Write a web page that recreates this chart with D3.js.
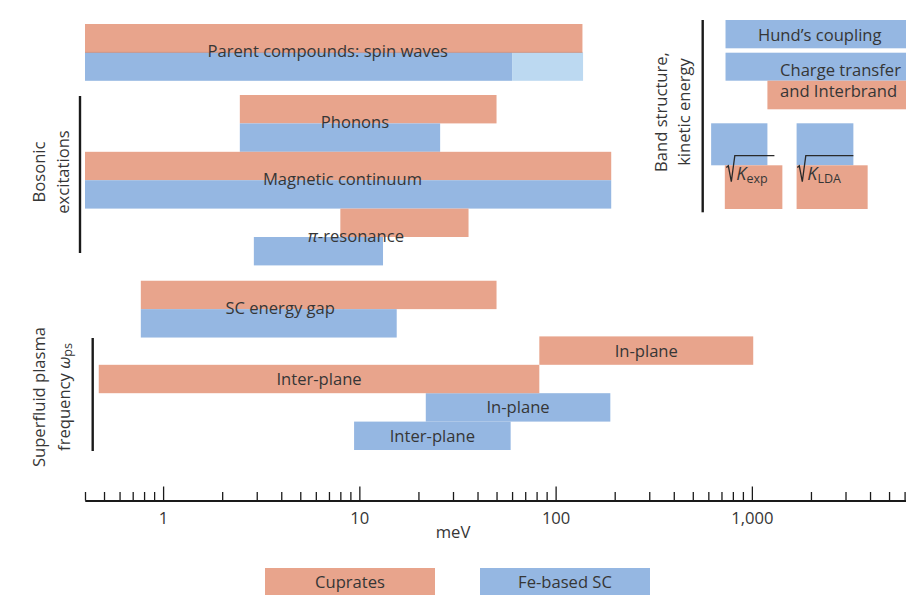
<!DOCTYPE html>
<html><head><meta charset="utf-8">
<script src="https://cdn.jsdelivr.net/npm/d3@7"></script>
<style>
body{margin:0;background:#fff;}
svg text{font-family:"Open Sans",sans-serif;fill:#363636;}
</style></head>
<body><svg id="c" width="906" height="595"></svg>
<script>
// ---------- DATA (energies in meV) ----------
const mainLabels = ["Parent compounds: spin waves", "Phonons", "Magnetic continuum", "\u03C0-resonance", "SC energy gap"];
const cupratesRange = [[0.4, 137], [2.46, 50], [0.4, 192], [8, 36], [0.77, 50]];
const feRange = [[0.4, 60], [2.46, 25.8], [0.4, 192], [2.9, 13.2], [0.77, 15.5]];
const feParentExtension = [60, 138];
const mainLabelEnergy = [6.9, 9.5, 8.2, 9.6, 3.95];

const plasmaLabels = ["In-plane", "Inter-plane"];
const plasmaCuprates = [[82.6, 1016], [0.47, 82.6]];
const plasmaFe = [[21.8, 190], [9.4, 59]];

const bandLabels = ["Hund\u2019s coupling", "Charge transfer", "and Interbrand"];
const bandFe = [[734, 6100], [734, 6100]];
const bandCuprates = [[1200, 6100]];
const kineticNames = ["exp", "LDA"];
const kineticFe = [[620, 1200], [1690, 3290]];
const kineticCuprates = [[728, 1430], [1690, 3890]];

const majorTicks = [1, 10, 100, 1000];
const tickLabels = ["1", "10", "100", "1,000"];
const legendLabels = ["Cuprates", "Fe-based SC"];

// ---------- STYLE / LAYOUT ----------
const C_CUP = "#E8A48C", C_FE = "#95B7E2", C_FE_LIGHT = "#BCD9F1";
const FS = 16.6;
const svg = d3.select("#c");
const x = d3.scaleLog().domain([0.4, 6100]).range([85, 906]);
const slot = d3.scaleLinear().domain([0, 1]).range([24, 52.4]);
const H = 28.4;
const mainSlots = [[0, 1], [2.5, 3.5], [4.5, 5.5], [6.5, 7.5], [9.04, 10.04]];

function bar(r, y, h, color) {
  svg.append("rect").attr("x", x(r[0])).attr("y", y)
    .attr("width", x(r[1]) - x(r[0])).attr("height", h).attr("fill", color);
}
function label(t, cx, cy, anchor) {
  return svg.append("text").attr("x", cx).attr("y", cy).attr("text-anchor", anchor || "middle")
    .attr("dominant-baseline", "central").attr("font-size", FS).text(t);
}

// main rows
mainLabels.forEach((lab, i) => {
  bar(cupratesRange[i], slot(mainSlots[i][0]), H, C_CUP);
  bar(feRange[i], slot(mainSlots[i][1]), H, C_FE);
  if (i === 0) bar(feParentExtension, slot(mainSlots[i][1]), H, C_FE_LIGHT);
});
svg.append("line").attr("x1", x(0.4)).attr("x2", x(137)).attr("y1", slot(1)).attr("y2", slot(1))
  .attr("stroke", "#c98a78").attr("stroke-width", 0.8);
mainLabels.forEach((lab, i) => {
  const t = label(lab, x(mainLabelEnergy[i]), slot(mainSlots[i][1]) - 2);
  if (i === 3) {
    t.text(null);
    t.append("tspan").attr("font-style", "italic").text("\u03C0");
    t.append("tspan").text("-resonance");
  }
});

// superfluid plasma rows
const plasmaSlotsCup = [11, 12], plasmaSlotsFe = [13, 14];
plasmaLabels.forEach((lab, i) => {
  bar(plasmaCuprates[i], slot(plasmaSlotsCup[i]), H, C_CUP);
  bar(plasmaFe[i], slot(plasmaSlotsFe[i]), H, C_FE);
});
plasmaLabels.forEach((lab, i) => {
  const c1 = plasmaCuprates[i], c2 = plasmaFe[i];
  label(lab, (x(c1[0]) + x(c1[1])) / 2, slot(plasmaSlotsCup[i]) + H / 2 - 0.5);
  label(lab, (x(c2[0]) + x(c2[1])) / 2, slot(plasmaSlotsFe[i]) + H / 2 - 0.5);
});

// band structure panel
bar(bandFe[0], 20, 28.3, C_FE);
bar(bandFe[1], 52.7, 28, C_FE);
bar(bandCuprates[0], 80.7, 28.6, C_CUP);
label(bandLabels[0], (x(bandFe[0][0]) + x(bandFe[0][1])) / 2 + 4, 34);
label(bandLabels[1], 780, 69, "start");
label(bandLabels[2], 780, 90.5, "start");

kineticNames.forEach((nm, i) => {
  bar(kineticFe[i], 123.3, 42, C_FE);
  bar(kineticCuprates[i], 165.3, 43.7, C_CUP);
});
kineticNames.forEach((nm, i) => {
  const x0 = i === 0 ? x(kineticCuprates[i][0]) + 1.5 : x(kineticCuprates[i][0]) + 0.7;
  const x1 = i === 0 ? x(kineticFe[i][1]) + 7 : x(kineticFe[i][1]);
  svg.append("path")
    .attr("d", `M${x0},167.5 L${x0 + 2},165.8 L${x0 + 5},181.7 L${x0 + 8.5},155.7 L${x1},155.7`)
    .attr("fill", "none").attr("stroke", "#2a2a2a").attr("stroke-width", 1.3);
  const t = svg.append("text").attr("x", x0 + 10).attr("y", 179.5).attr("font-size", 18);
  t.append("tspan").attr("font-style", "italic").text("K");
  t.append("tspan").attr("font-size", 12.5).attr("dy", 3).text(nm);
});

// group bracket lines
const lineSpec = [[80, 96, 253], [92.7, 338, 451], [702.7, 20, 212.3]];
lineSpec.forEach(l => svg.append("line").attr("x1", l[0]).attr("x2", l[0]).attr("y1", l[1]).attr("y2", l[2])
  .attr("stroke", "#1a1a1a").attr("stroke-width", 2.4));

function vtext(lines, cx, cy) {
  lines.forEach((ln, k) => {
    const t = svg.append("text").attr("transform", `translate(${cx[k]},${cy}) rotate(-90)`)
      .attr("text-anchor", "middle").attr("dominant-baseline", "central").attr("font-size", FS);
    if (typeof ln === "string") t.text(ln);
    else ln(t);
  });
}
vtext(["Bosonic", "excitations"], [38.5, 62], 172);
vtext(["Band structure,", "kinetic energy"], [660, 683.5], 112);
vtext(["Superfluid plasma", t => {
  t.append("tspan").text("frequency ");
  t.append("tspan").attr("font-style", "italic").text("\u03C9");
  t.append("tspan").attr("font-size", 12.5).attr("dy", 4).text("ps");
}], [38.5, 63], 397);

// axis
const minor = [];
for (let e = -1; e <= 3; e++) for (let m = 1; m <= 9; m++) {
  const v = m * Math.pow(10, e);
  if (v >= 0.4 && v <= 6100 && !majorTicks.includes(v)) minor.push(v);
}
const gMinor = svg.append("g").attr("transform", "translate(0,500.5)")
  .call(d3.axisBottom(x).tickValues(minor).tickSize(-8.5).tickFormat("").tickSizeOuter(0));
const gMajor = svg.append("g").attr("transform", "translate(0,500.5)")
  .call(d3.axisBottom(x).tickValues(majorTicks).tickSize(-14).tickSizeOuter(0)
    .tickFormat((d, i) => tickLabels[i]));
[gMinor, gMajor].forEach(g => {
  g.selectAll("line").attr("stroke", "#1a1a1a").attr("stroke-width", 1.3);
  g.select(".domain").attr("stroke", "#1a1a1a").attr("stroke-width", 1.8);
});
gMajor.selectAll("text").attr("y", 12).attr("font-size", FS).attr("fill", "#363636")
  .style("font-family", "Open Sans");
svg.append("text").attr("x", x(30)).attr("y", 531).attr("text-anchor", "middle")
  .attr("dominant-baseline", "central").attr("font-size", FS).text("meV");

// legend
const legendX = [265, 480], legendCol = [C_CUP, C_FE];
legendLabels.forEach((t, i) => {
  svg.append("rect").attr("x", legendX[i]).attr("y", 568).attr("width", 170).attr("height", 27).attr("fill", legendCol[i]);
  svg.append("text").attr("x", legendX[i] + 85).attr("y", 581.5).attr("text-anchor", "middle")
    .attr("dominant-baseline", "central").attr("font-size", FS).text(t);
});
</script></body></html>
